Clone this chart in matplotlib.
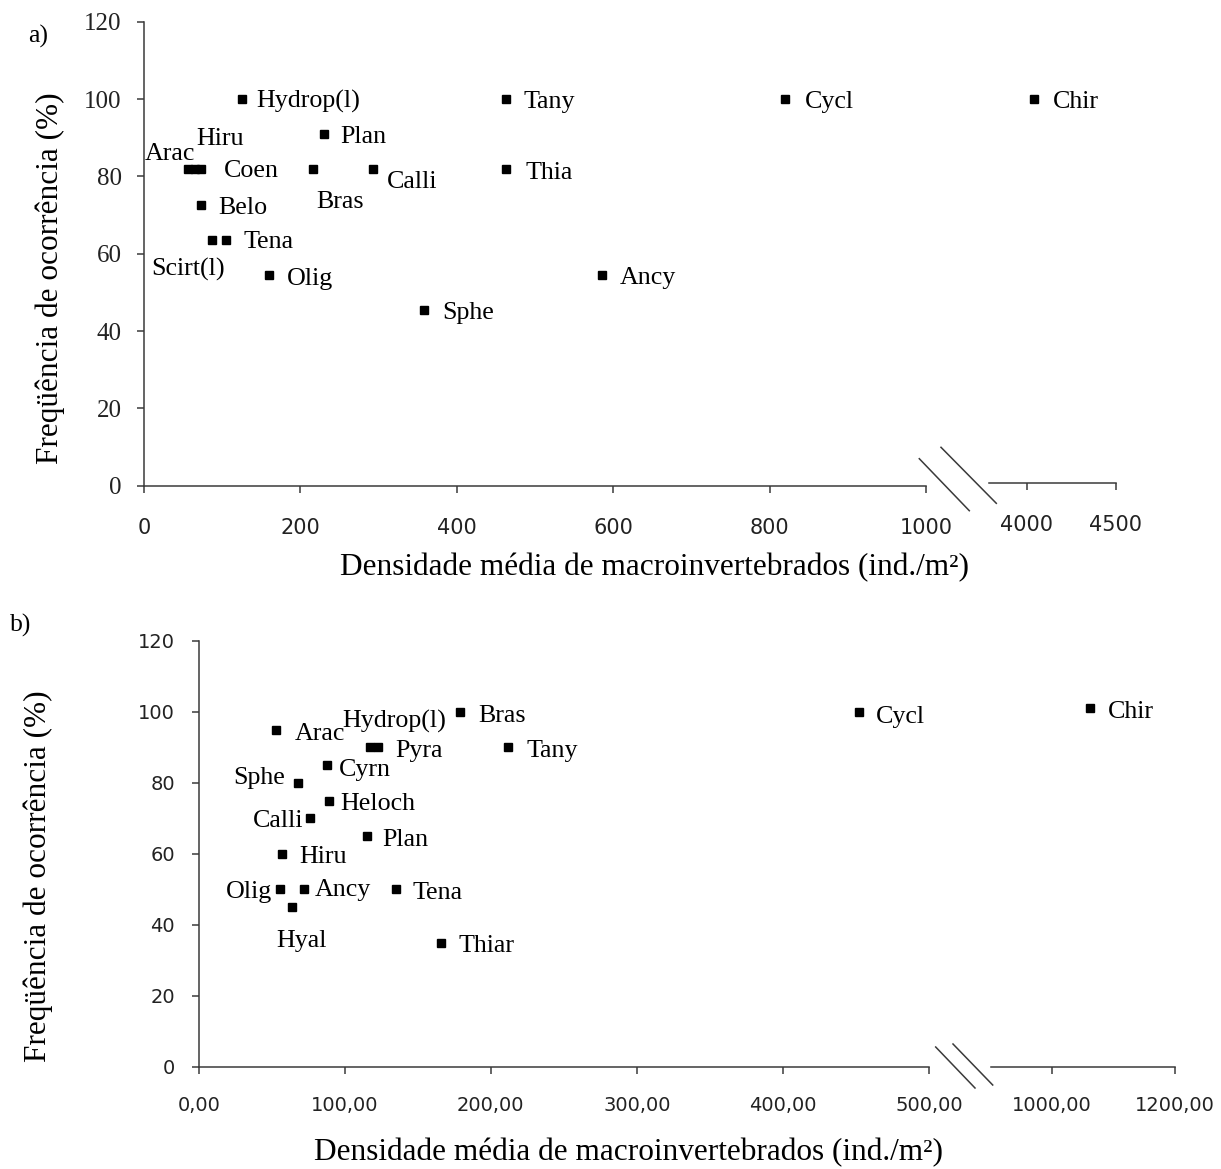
import numpy as np
from matplotlib import pyplot as plt
from matplotlib.lines import Line2D

W, H = 1221, 1169

SERIF = "Liberation Serif"
SANS = "DejaVu Sans"
AXIS_CLR = "#3a3a3a"
TXT_CLR = "#222222"

# --- panel a) data ---
A_TAXA = ["Hydrop(l)", "Tany", "Cycl", "Chir", "Plan", "Arac", "Hiru", "Coen",
          "Bras", "Calli", "Thia", "Belo", "Scirt(l)", "Tena", "Olig", "Sphe", "Ancy"]
A_DENS = [125, 463, 820, 4039, 230, 56, 65, 73,
          216, 293, 463, 72.6, 86.8, 105, 160, 358, 586]
A_FREQ = [100, 100, 100, 100, 90.9, 81.8, 81.8, 81.8,
          81.8, 81.8, 81.8, 72.7, 63.6, 63.6, 54.5, 45.5, 54.5]
A_XTICKS_L = [0, 200, 400, 600, 800, 1000]
A_XTICKS_R = [4000, 4500]

# --- panel b) data ---
B_TAXA = ["Arac", "Hydrop(l)", "Pyra", "Bras", "Tany", "Cycl", "Chir", "Cyrn", "Sphe",
          "Heloch", "Calli", "Plan", "Hiru", "Olig", "Ancy", "Hyal", "Tena", "Thiar"]
B_DENS = [53, 117, 123, 179, 212, 452, 1063, 87.5, 68.3,
          89.4, 75.9, 115, 57, 56, 72, 64.2, 135, 166]
B_FREQ = [95, 90, 90, 100, 90, 100, 101, 85, 80,
          75, 70, 65, 60, 50, 50, 45, 50, 35]
B_XTICKS_L = [0, 100, 200, 300, 400, 500]
B_XTICKS_R = [1000, 1200]

Y_TICKS = [0, 20, 40, 60, 80, 100, 120]

XLABEL = "Densidade média de macroinvertebrados (ind./m²)"
YLABEL = "Freqüência de ocorrência (%)"

# label placement (offset pixels from the marker, horizontal alignment)
A_OFFS = {
    "Hydrop(l)": (15, -8.5, "left"), "Tany": (17.7, -8.5, "left"),
    "Cycl": (19.5, -8.5, "left"), "Chir": (18.6, -8.5, "left"),
    "Plan": (16.7, -8.6, "left"), "Arac": (7, 9.3, "right"),
    "Hiru": (1.7, 24.3, "left"), "Coen": (22.5, -7.5, "left"),
    "Bras": (3, -39, "left"), "Calli": (13.6, -18.6, "left"),
    "Thia": (19, -10, "left"), "Belo": (17.4, -9, "left"),
    "Scirt(l)": (12.6, -35.4, "right"), "Tena": (17.8, -8.6, "left"),
    "Olig": (17.4, -10, "left"), "Sphe": (18, -9, "left"),
    "Ancy": (17.8, -9, "left"),
}
B_OFFS = {
    "Arac": (18.6, -10.5, "left"), "Hydrop(l)": (-27.7, 20, "left"),
    "Pyra": (16.7, -9.7, "left"), "Bras": (18.6, -9.8, "left"),
    "Tany": (17.8, -9.7, "left"), "Cycl": (17, -10.6, "left"),
    "Chir": (17.4, -9.4, "left"), "Cyrn": (12.5, -11, "left"),
    "Sphe": (-13, -0.7, "right"), "Heloch": (10.8, -9, "left"),
    "Calli": (-6.5, -8.4, "right"), "Plan": (15.8, -9.8, "left"),
    "Hiru": (17.8, -9, "left"), "Olig": (-7.9, -9, "right"),
    "Ancy": (11, -7, "left"), "Hyal": (-15.8, -40, "left"),
    "Tena": (17, -9.5, "left"), "Thiar": (17.8, -9, "left"),
}


def px_rect(x0, y0, x1, y1):
    """Axes rectangle from pixel box (top-left origin)."""
    return [x0 / W, 1 - y1 / H, (x1 - x0) / W, (y1 - y0) / H]


def style_axis(ax, keep_left=True):
    ax.spines["top"].set_visible(False)
    ax.spines["right"].set_visible(False)
    for s in ("left", "bottom"):
        ax.spines[s].set_color(AXIS_CLR)
        ax.spines[s].set_linewidth(1.1)
    ax.tick_params(direction="out", length=5, width=1.1, color=AXIS_CLR,
                   labelcolor=TXT_CLR)
    if not keep_left:
        ax.spines["left"].set_visible(False)
        ax.set_yticks([])


def plot_points(ax, taxa, dens, freq, offs, lo, hi):
    for name, x, y in zip(taxa, dens, freq):
        if not (lo <= x <= hi):
            continue
        ax.plot(x, y, "s", color="black", ms=5.8, clip_on=False)
        dx, dy, ha = offs[name]
        ax.annotate(name, (x, y), xytext=(dx, dy), textcoords="offset pixels",
                    ha=ha, va="baseline", fontsize=18.7, family=SERIF,
                    color="black", annotation_clip=False)


def comma_fmt(ticks):
    return [f"{t:.2f}".replace(".", ",") for t in ticks]


def break_marks(lines):
    for (x0, y0), (x1, y1) in lines:
        fig.add_artist(Line2D([x0 / W, x1 / W], [1 - y0 / H, 1 - y1 / H],
                              color=AXIS_CLR, lw=1.1, transform=fig.transFigure))


fig = plt.figure(figsize=(W / 100, H / 100), dpi=100)

# ---------------- panel a ----------------
axa = fig.add_axes(px_rect(144, 21.7, 926, 485.7))
axa_r = fig.add_axes(px_rect(989, 21.7, 1115.7, 485.7))
for ax in (axa, axa_r):
    ax.set_ylim(0, 120)
    ax.patch.set_alpha(0)
style_axis(axa)
style_axis(axa_r, keep_left=False)
axa.set_xlim(0, 1000)
axa_r.set_xlim(3786, 4500)
axa_r.spines["bottom"].set_position(("axes", 3 / 464))
axa.set_yticks(Y_TICKS, labels=[str(t) for t in Y_TICKS], fontsize=18, family=SERIF)
axa.set_xticks(A_XTICKS_L, labels=[str(t) for t in A_XTICKS_L], fontsize=15, family=SANS)
axa_r.set_xticks(A_XTICKS_R, labels=[str(t) for t in A_XTICKS_R], fontsize=15, family=SANS)
axa.tick_params(axis="y", pad=11)
axa.tick_params(axis="x", pad=18.5)
axa_r.tick_params(axis="x", pad=18)
plot_points(axa, A_TAXA, A_DENS, A_FREQ, A_OFFS, 0, 1000)
plot_points(axa_r, A_TAXA, A_DENS, A_FREQ, A_OFFS, 3786, 4500)
break_marks([((919.3, 458.7), (969.3, 510.7)), ((941, 447.3), (996.3, 503.3))])

fig.text(28 / W, 1 - 43 / H, "a)", fontsize=18.5, family=SERIF, ha="left", va="baseline")
fig.text(50 / W, 1 - 278.5 / H, YLABEL, rotation=90, fontsize=22.5, family=SERIF,
         ha="center", va="center")
fig.text(654 / W, 1 - 575 / H, XLABEL, fontsize=22.5, family=SERIF,
         ha="center", va="baseline")

# ---------------- panel b ----------------
axb = fig.add_axes(px_rect(198.7, 641, 929, 1066.7))
axb_r = fig.add_axes(px_rect(990.7, 641, 1174.7, 1066.7))
for ax in (axb, axb_r):
    ax.set_ylim(0, 120)
    ax.patch.set_alpha(0)
style_axis(axb)
style_axis(axb_r, keep_left=False)
axb.set_xlim(0, 500)
axb_r.set_xlim(900.8, 1200)
axb.set_yticks(Y_TICKS, labels=[str(t) for t in Y_TICKS], fontsize=14, family=SANS)
axb.set_xticks(B_XTICKS_L, labels=comma_fmt(B_XTICKS_L), fontsize=14, family=SANS)
axb_r.set_xticks(B_XTICKS_R, labels=comma_fmt(B_XTICKS_R), fontsize=14, family=SANS)
axb.tick_params(axis="y", pad=12)
axb.tick_params(axis="x", pad=16)
axb_r.tick_params(axis="x", pad=16)
plot_points(axb, B_TAXA, B_DENS, B_FREQ, B_OFFS, 0, 500)
plot_points(axb_r, B_TAXA, B_DENS, B_FREQ, B_OFFS, 900.8, 1200)
break_marks([((935.7, 1047), (975, 1088)), ((953, 1044), (992.7, 1085))])

fig.text(10 / W, 1 - 632 / H, "b)", fontsize=18.5, family=SERIF, ha="left", va="baseline")
fig.text(38.5 / W, 1 - 876 / H, YLABEL, rotation=90, fontsize=22.5, family=SERIF,
         ha="center", va="center")
fig.text(629 / W, 1 - 1160 / H, XLABEL, fontsize=22.5, family=SERIF,
         ha="center", va="baseline")

fig.savefig("out.png", dpi=100, facecolor="white")
